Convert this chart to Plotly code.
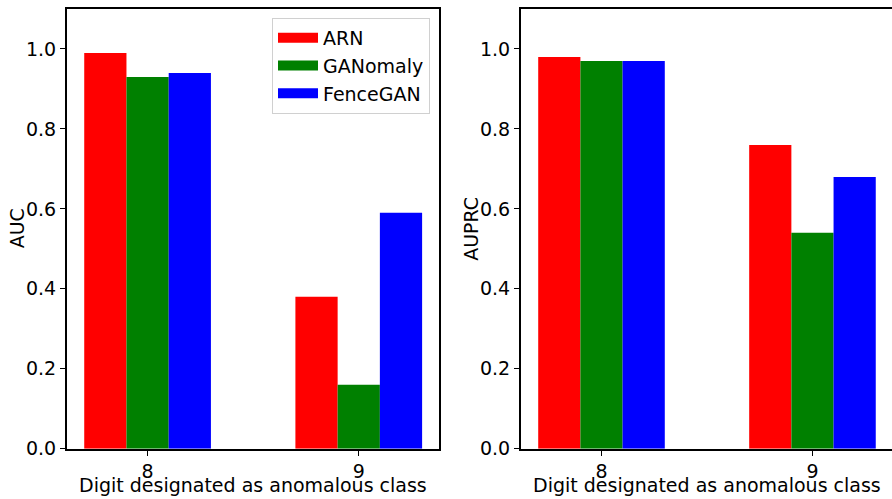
import plotly.graph_objects as go

categories = ["8", "9"]
series_names = ["ARN", "GANomaly", "FenceGAN"]
colors = ["#ff0000", "#008000", "#0000ff"]
auc_values = {
    "ARN": [0.99, 0.38],
    "GANomaly": [0.93, 0.16],
    "FenceGAN": [0.94, 0.59],
}
auprc_values = {
    "ARN": [0.98, 0.76],
    "GANomaly": [0.97, 0.54],
    "FenceGAN": [0.97, 0.68],
}
y_ticks = [0.0, 0.2, 0.4, 0.6, 0.8, 1.0]
y_tick_labels = ["0.0", "0.2", "0.4", "0.6", "0.8", "1.0"]
x_title = "Digit designated as anomalous class"
y_titles = ["AUC", "AUPRC"]

W, H = 892, 499
FONT = "DejaVu Sans"
FS = 19

fig = go.Figure()
for name, col in zip(series_names, colors):
    fig.add_trace(go.Bar(x=categories, y=auc_values[name], name=name,
                         marker=dict(color=col, line=dict(width=0)),
                         xaxis="x", yaxis="y", showlegend=False))
for name, col in zip(series_names, colors):
    fig.add_trace(go.Bar(x=categories, y=auprc_values[name], name=name,
                         marker=dict(color=col, line=dict(width=0)),
                         xaxis="x2", yaxis="y2", showlegend=False))
# legend entries (patch-like wide swatches)
for name, col in zip(series_names, colors):
    fig.add_trace(go.Scatter(x=[None], y=[None], mode="lines", name=name,
                             line=dict(color=col, width=14),
                             xaxis="x", yaxis="y", showlegend=True, hoverinfo="skip"))

def sx(px):
    return px / W

def sy(py):
    return (H - py) / H

ydom = [sy(448.7), sy(9)]
x1dom = [sx(66.7), sx(439)]
x2dom = [sx(520.7), 1.0]
axis_common = dict(showline=True, mirror=True, linecolor="black", linewidth=1.6,
                   ticks="outside", ticklen=5, tickwidth=1.3, tickcolor="black",
                   showgrid=False, zeroline=False, automargin=False,
                   tickfont=dict(family=FONT, size=FS, color="black"))

fig.update_layout(
    width=W, height=H,
    margin=dict(l=0, r=0, t=0, b=0),
    paper_bgcolor="white", plot_bgcolor="white",
    barmode="group", bargap=0.4, bargroupgap=0,
    font=dict(family=FONT, size=FS, color="black"),
    xaxis=dict(domain=x1dom, type="category", range=[-0.383, 1.38],
               anchor="y", **axis_common),
    yaxis=dict(domain=ydom, range=[0, 1.1], tickvals=y_ticks, ticktext=y_tick_labels,
               anchor="x", **axis_common),
    xaxis2=dict(domain=x2dom, type="category", range=[-0.383, 1.377],
                anchor="y2", **axis_common),
    yaxis2=dict(domain=ydom, range=[0, 1.1], tickvals=y_ticks, ticktext=y_tick_labels,
                anchor="x2", **axis_common),
    legend=dict(x=sx(430), xanchor="right", y=sy(18), yanchor="top",
                bgcolor="rgba(255,255,255,0.8)", bordercolor="#d0d0d0", borderwidth=1,
                font=dict(family=FONT, size=FS, color="black"),
                itemwidth=40, tracegroupgap=0),
)

title_font = dict(family=FONT, size=FS, color="black")
ymid = (ydom[0] + ydom[1]) / 2
for dom in (x1dom, [sx(520.7), sx(893)]):
    fig.add_annotation(text=x_title, xref="paper", yref="paper",
                       x=(dom[0] + dom[1]) / 2, y=sy(485), xanchor="center", yanchor="middle",
                       showarrow=False, font=title_font)
for title, xpos in zip(y_titles, (16.5, 471)):
    fig.add_annotation(text=title, xref="paper", yref="paper", textangle=-90,
                       x=sx(xpos), y=ymid, xanchor="center", yanchor="middle",
                       showarrow=False, font=title_font)

fig.write_html("out.html",
               config={"displayModeBar": False},
               post_script="document.body.style.margin='0';document.body.style.overflow='hidden';")
